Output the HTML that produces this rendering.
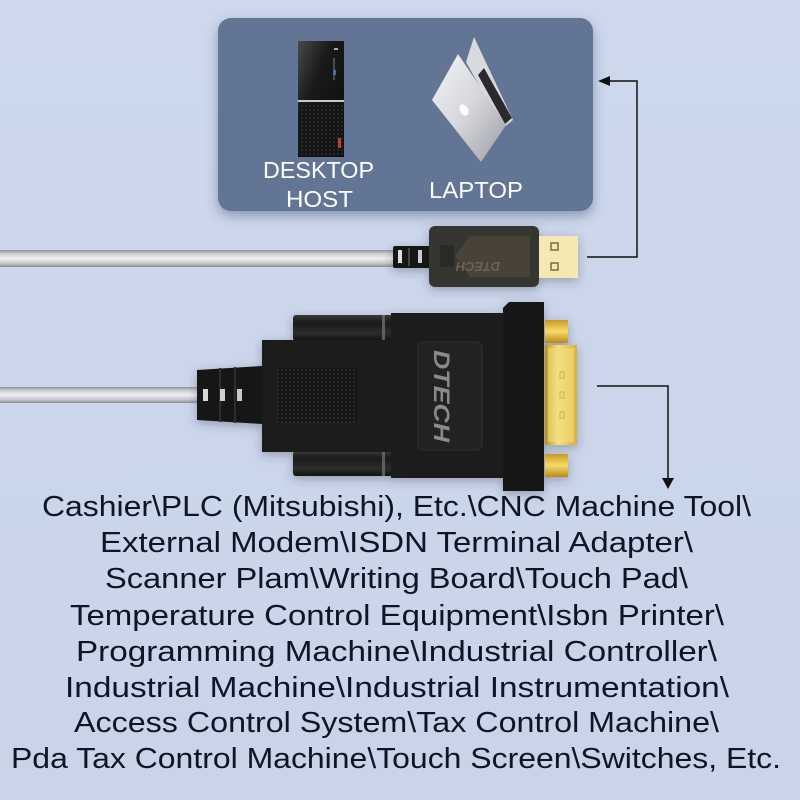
<!DOCTYPE html>
<html><head><meta charset="utf-8"><style>
html,body{margin:0;padding:0;background:#cad5ea;}
svg{display:block;}
</style></head><body>
<svg width="800" height="800" viewBox="0 0 800 800" xmlns="http://www.w3.org/2000/svg">
<defs>
<linearGradient id="bg" x1="0" y1="0" x2="0" y2="1"><stop offset="0" stop-color="#cdd8ec"/><stop offset="1" stop-color="#c9d4e9"/></linearGradient>
<filter id="sh" x="-10%" y="-10%" width="120%" height="130%"><feDropShadow dx="0" dy="5" stdDeviation="6" flood-color="#3a4a6a" flood-opacity="0.45"/></filter>
<filter id="sh2" x="-20%" y="-20%" width="140%" height="140%"><feDropShadow dx="0" dy="3" stdDeviation="5" flood-color="#334" flood-opacity="0.35"/></filter>
<linearGradient id="cable" x1="0" y1="0" x2="0" y2="1"><stop offset="0" stop-color="#8e9296"/><stop offset="0.2" stop-color="#c9cbcd"/><stop offset="0.5" stop-color="#eef0f2"/><stop offset="0.8" stop-color="#c3c5c7"/><stop offset="1" stop-color="#8a8d90"/></linearGradient>
<linearGradient id="tower" x1="0" y1="0" x2="1" y2="1"><stop offset="0" stop-color="#4a4a4a"/><stop offset="0.35" stop-color="#1a1a1a"/><stop offset="1" stop-color="#0c0c0c"/></linearGradient>
<linearGradient id="lid" x1="0" y1="0" x2="1" y2="1"><stop offset="0" stop-color="#f4f4f6"/><stop offset="0.5" stop-color="#d6d7db"/><stop offset="1" stop-color="#9c9ea4"/></linearGradient>
<linearGradient id="gold" x1="0" y1="0" x2="1" y2="0"><stop offset="0" stop-color="#b8901c"/><stop offset="0.4" stop-color="#f7e27a"/><stop offset="1" stop-color="#d8b040"/></linearGradient>
<linearGradient id="goldv" x1="0" y1="0" x2="0" y2="1"><stop offset="0" stop-color="#c89a20"/><stop offset="0.5" stop-color="#f6dc6a"/><stop offset="1" stop-color="#b88a18"/></linearGradient>
<linearGradient id="tab" x1="0" y1="0" x2="0" y2="1"><stop offset="0" stop-color="#3a3a3a"/><stop offset="0.3" stop-color="#1a1a1a"/><stop offset="0.7" stop-color="#2e2e2e"/><stop offset="1" stop-color="#111"/></linearGradient>
<pattern id="mesh" width="4" height="4" patternUnits="userSpaceOnUse"><rect width="4" height="4" fill="#151515"/><rect x="1" y="1" width="2" height="2" fill="#2c2c2c"/></pattern>
</defs>
<rect width="800" height="800" fill="url(#bg)"/>

<!-- top box -->
<rect x="218" y="18" width="375" height="193" rx="13" fill="#627595" filter="url(#sh)"/>

<!-- desktop tower -->
<rect x="298" y="41" width="46" height="116" fill="url(#tower)"/>
<rect x="298" y="100" width="46" height="2" fill="#c8c8c8"/>
<rect x="299" y="103" width="44" height="53" fill="url(#mesh)" opacity="0.8"/>
<rect x="338" y="138" width="3" height="10" fill="#c43a3a"/>
<rect x="334" y="48" width="4" height="2" fill="#aaa"/>
<rect x="333" y="58" width="2" height="22" fill="#556" opacity="0.8"/>
<rect x="333" y="70" width="3" height="5" fill="#4a6aa0"/>

<!-- laptop -->
<polygon points="474,37 513,120 503,128 466,62" fill="#d9dadd"/>
<polygon points="484,68 512,118 505,124 478,75" fill="#2a2a2e"/>
<polygon points="432,100 458,54 506,125 481,162" fill="url(#lid)"/>
<ellipse cx="464" cy="110" rx="4" ry="6" fill="#ffffff" transform="rotate(-30 464 110)"/>

<text x="263" y="178" font-family="Liberation Sans, sans-serif" font-size="23" fill="#fff" textLength="111" lengthAdjust="spacingAndGlyphs">DESKTOP</text>
<text x="286" y="207" font-family="Liberation Sans, sans-serif" font-size="23" fill="#fff" textLength="67" lengthAdjust="spacingAndGlyphs">HOST</text>
<text x="429" y="198" font-family="Liberation Sans, sans-serif" font-size="23" fill="#fff" textLength="94" lengthAdjust="spacingAndGlyphs">LAPTOP</text>

<!-- top arrow -->
<polyline points="587,257 637,257 637,81 606,81" fill="none" stroke="#111" stroke-width="1.5"/>
<polygon points="598,81 610,76 610,86" fill="#111"/>

<!-- USB cable -->
<rect x="0" y="250" width="395" height="17" fill="url(#cable)"/>
<g filter="url(#sh2)">
<rect x="393" y="246" width="38" height="22" rx="2" fill="#161616"/>
<rect x="398" y="250" width="4" height="13" fill="#ddd"/>
<rect x="408" y="248" width="2" height="18" fill="#444"/>
<rect x="418" y="250" width="4" height="13" fill="#ccc"/>
<rect x="429" y="226" width="110" height="61" rx="6" fill="#363532"/>
<polygon points="470,236 530,236 530,277 470,277 455,256" fill="#4a4538" opacity="0.9"/>
<rect x="440" y="245" width="14" height="22" fill="#2a2a28"/>
<text x="0" y="0" transform="translate(500,262) rotate(180)" font-family="Liberation Sans, sans-serif" font-size="13" font-style="italic" font-weight="bold" fill="#6a6455" textLength="44" lengthAdjust="spacingAndGlyphs">DTECH</text>
<rect x="539" y="236" width="39" height="42" fill="#f5e8b2"/>
<rect x="551" y="243" width="7" height="7" fill="none" stroke="#7a6a40" stroke-width="1.5"/>
<rect x="551" y="263" width="7" height="7" fill="none" stroke="#7a6a40" stroke-width="1.5"/>
</g>

<!-- DB9 cable -->
<rect x="0" y="387" width="200" height="16" fill="url(#cable)"/>
<g filter="url(#sh2)">
<!-- strain relief -->
<polygon points="197,370 262,366 262,424 197,420" fill="#141414"/>
<rect x="219" y="368" width="2" height="54" fill="#2e2e2e"/>
<rect x="234" y="367" width="2" height="56" fill="#2e2e2e"/>
<rect x="203" y="389" width="5" height="12" fill="#d8d8d8"/>
<rect x="220" y="389" width="5" height="12" fill="#d0d0d0"/>
<rect x="237" y="389" width="5" height="12" fill="#d0c8c8"/>
<!-- tabs -->
<rect x="293" y="315" width="100" height="26" rx="3" fill="url(#tab)"/>
<rect x="293" y="451" width="100" height="25" rx="3" fill="url(#tab)"/>
<rect x="382" y="315" width="3" height="26" fill="#777" opacity="0.7"/>
<rect x="382" y="451" width="3" height="25" fill="#777" opacity="0.7"/>
<!-- body -->
<rect x="262" y="340" width="140" height="112" fill="#1b1b1b"/>
<rect x="391" y="313" width="116" height="165" fill="#1d1d1d"/>
<rect x="277" y="368" width="80" height="55" rx="3" fill="url(#mesh)"/>
<rect x="418" y="342" width="64" height="108" rx="5" fill="#242424" stroke="#2e2e2e"/>
<text x="0" y="0" transform="translate(434,350) rotate(90)" font-family="Liberation Sans, sans-serif" font-size="22" font-style="italic" font-weight="bold" fill="#8a8a8a" textLength="92" lengthAdjust="spacingAndGlyphs">DTECH</text>
<!-- flange -->
<polygon points="509,302 544,302 544,491 503,491 503,308" fill="#141414"/>
<!-- gold -->
<rect x="545" y="320" width="23" height="23" fill="url(#goldv)"/>
<rect x="545" y="454" width="23" height="23" fill="url(#goldv)"/>
<rect x="545" y="345" width="32" height="100" fill="url(#gold)"/>
<rect x="548" y="348" width="26" height="94" fill="#f2dc80" opacity="0.6"/>
<rect x="560" y="372" width="4" height="6" fill="none" stroke="#c9a850" stroke-width="0.8"/>
<rect x="560" y="392" width="4" height="6" fill="none" stroke="#c9a850" stroke-width="0.8"/>
<rect x="560" y="412" width="4" height="6" fill="none" stroke="#c9a850" stroke-width="0.8"/>
</g>

<!-- bottom arrow -->
<polyline points="597,386 668,386 668,480" fill="none" stroke="#111" stroke-width="1.5"/>
<polygon points="662,478 674,478 668,489" fill="#111"/>

<!-- text lines -->
<g font-family="Liberation Sans, sans-serif" font-size="29" fill="#0d1526">
<text x="42" y="516" textLength="709" lengthAdjust="spacingAndGlyphs">Cashier\PLC (Mitsubishi), Etc.\CNC Machine Tool\</text>
<text x="100" y="552" textLength="593" lengthAdjust="spacingAndGlyphs">External Modem\ISDN Terminal Adapter\</text>
<text x="105" y="588" textLength="583" lengthAdjust="spacingAndGlyphs">Scanner Plam\Writing Board\Touch Pad\</text>
<text x="70" y="625" textLength="654" lengthAdjust="spacingAndGlyphs">Temperature Control Equipment\Isbn Printer\</text>
<text x="76" y="661" textLength="641" lengthAdjust="spacingAndGlyphs">Programming Machine\Industrial Controller\</text>
<text x="65" y="697" textLength="664" lengthAdjust="spacingAndGlyphs">Industrial Machine\Industrial Instrumentation\</text>
<text x="74" y="732" textLength="645" lengthAdjust="spacingAndGlyphs">Access Control System\Tax Control Machine\</text>
<text x="11" y="768" textLength="770" lengthAdjust="spacingAndGlyphs">Pda Tax Control Machine\Touch Screen\Switches, Etc.</text>
</g>
</svg>
</body></html>
